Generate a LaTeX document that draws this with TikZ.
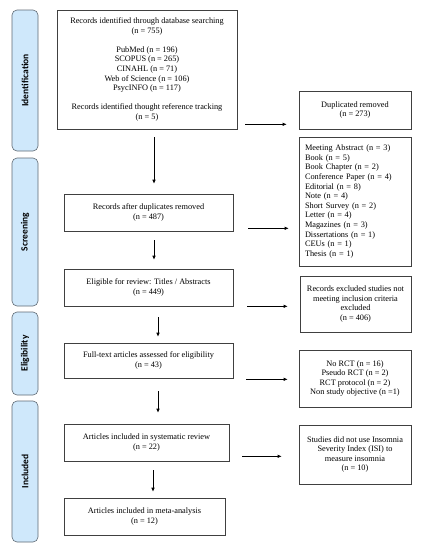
\documentclass[tikz,border=0pt]{standalone}
\usepackage{fontspec}
\setmainfont{Liberation Serif}
\newfontfamily\phasefont{Carlito}
\usetikzlibrary{arrows.meta}
\definecolor{phasebg}{RGB}{207,232,251}
\definecolor{phaseline}{RGB}{95,105,115}
\tikzset{
  box/.style={draw=black!75, line width=0.6pt, align=center, inner sep=0pt,
    font=\fontsize{8.3}{9.6}\selectfont},
  phase/.style={draw=phaseline, fill=phasebg, rounded corners=5pt, line width=0.6pt,
    rotate=90, inner sep=0pt, font=\phasefont\bfseries\fontsize{9.5}{10}\selectfont},
  arr/.style={-{Latex[length=4pt,width=3.5pt]}, line width=0.6pt}
}
\begin{document}
\begin{tikzpicture}[x=1pt,y=-1pt]
\useasboundingbox (0,0) rectangle (421,550);
\node [phase, minimum width=141, minimum height=26] (ident) at (25,80.5) {Identification};
\node [phase, minimum width=148, minimum height=26] (screen) at (25,232) {Screening};
\node [phase, minimum width=83, minimum height=26] (eligph) at (25,353.5) {Eligibility};
\node [phase, minimum width=141, minimum height=26] (incl) at (25,471.5) {Included};
\node [box, minimum width=180, minimum height=119] (rec) at (147,69.5) {Records identified through database searching\\(n = 755)\\[9.6pt]PubMed (n = 196)\\SCOPUS (n = 265)\\CINAHL (n = 71)\\Web of Science (n = 106)\\PsycINFO (n = 117)\\[9.6pt]Records identified thought reference tracking\\(n = 5)};
\node [box, minimum width=112, minimum height=38] (dup) at (355,110) {Duplicated removed\\(n = 273)};
\node [box, minimum width=112, minimum height=129, align=left, text width=100] (excl) at (355,201.5) {Meeting Abstract (n = 3)\\Book (n = 5)\\Book Chapter (n = 2)\\Conference Paper (n = 4)\\Editorial (n = 8)\\Note (n = 4)\\Short Survey (n = 2)\\Letter (n = 4)\\Magazines (n = 3)\\Dissertations (n = 1)\\CEUs (n = 1)\\Thesis (n = 1)};
\node [box, minimum width=169, minimum height=37] (nodup) at (148.5,212.5) {Records after duplicates removed\\(n = 487)};
\node [box, minimum width=169, minimum height=37] (elig) at (148.5,287.5) {Eligible for review: Titles / Abstracts\\(n = 449)};
\node [box, minimum width=111, minimum height=56] (recexcl) at (355.5,304) {Records excluded studies not\\meeting inclusion criteria\\excluded\\(n = 406)};
\node [box, minimum width=169, minimum height=35] (full) at (148.5,360.5) {Full-text articles assessed for eligibility\\(n = 43)};
\node [box, minimum width=112, minimum height=57] (norct) at (355,378.5) {No RCT (n = 16)\\Pseudo RCT (n = 2)\\RCT protocol (n = 2)\\Non study objective (n =1)};
\node [box, minimum width=165, minimum height=37] (sysrev) at (146.5,442.5) {Articles included in systematic review\\(n = 22)};
\node [box, minimum width=112, minimum height=59] (isi) at (355,454.5) {Studies did not use Insomnia\\Severity Index (ISI) to\\measure insomnia\\(n = 10)};
\node [box, minimum width=161, minimum height=37] (meta) at (144.5,516.5) {Articles included in meta-analysis\\(n = 12)};
\draw [arr, shorten <=8pt, shorten >=10pt] ([xshift=7pt]rec.south) -- ([xshift=7pt]rec.south |- nodup.north);
\draw [arr, shorten <=9pt, shorten >=9pt] ([xshift=5.5pt]nodup.south) -- ([xshift=5.5pt]nodup.south |- elig.north);
\draw [arr, shorten <=11pt, shorten >=6pt] ([xshift=9.5pt]elig.south) -- ([xshift=9.5pt]elig.south |- full.north);
\draw [arr, shorten <=13pt, shorten >=11pt] ([xshift=9.5pt]full.south) -- ([xshift=9.5pt]full.south |- sysrev.north);
\draw [arr, shorten <=9pt, shorten >=6pt] ([xshift=6.5pt]sysrev.south) -- ([xshift=6.5pt]sysrev.south |- meta.north);
\draw [arr, shorten <=8pt, shorten >=12pt] ([yshift=5pt]rec.south east) -- ([yshift=5pt]rec.south east -| dup.west);
\draw [arr, shorten <=15pt, shorten >=10pt] ([yshift=3pt]nodup.south east) -- ([yshift=3pt]nodup.south east -| excl.west);
\draw [arr, shorten <=14pt, shorten >=12pt] (elig.south east) -- (elig.south east -| recexcl.west);
\draw [arr, shorten <=13pt, shorten >=11pt] ([yshift=-1pt]full.south east) -- ([yshift=-1pt]full.south east -| norct.west);
\draw [arr, shorten <=13pt, shorten >=17pt] ([yshift=5pt]sysrev.south east) -- ([yshift=5pt]sysrev.south east -| isi.west);
\end{tikzpicture}
\end{document}
